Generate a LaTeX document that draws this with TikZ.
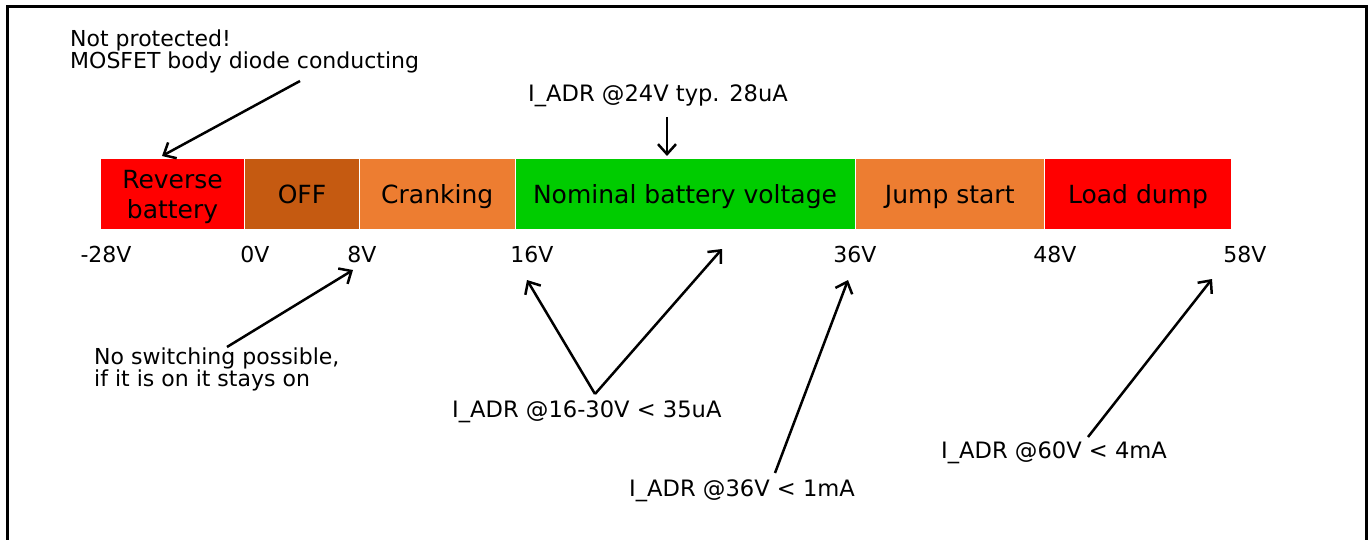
\documentclass[tikz,border=0pt]{standalone}
\usepackage{fontspec}
\setmainfont{DejaVu Sans}
\usetikzlibrary{arrows.meta}
\definecolor{cred}{HTML}{FF0000}
\definecolor{coff}{HTML}{C55A11}
\definecolor{corange}{HTML}{ED7D31}
\definecolor{cgreen}{HTML}{00CC00}
\begin{document}
\begin{tikzpicture}[x=1pt,y=-1pt,
  seg/.style={draw=white, line width=1pt, minimum height=71pt, inner sep=0pt,
    font=\fontsize{25}{30}\selectfont, align=center, anchor=north west, text depth=0pt},
  seg1/.style={seg, text height=19pt},
  lbl/.style={font=\fontsize{22}{21}\selectfont, inner sep=0pt, align=left},
  ilbl/.style={font=\fontsize{22.6}{21}\selectfont, inner sep=0pt, anchor=base west},
  tick/.style={font=\fontsize{22}{21}\selectfont, inner sep=0pt, anchor=base},
  arr/.style={-{Straight Barb[length=10pt,width=18pt]}, line width=2.5pt}]
\useasboundingbox (0,0) rectangle (1370,540);
\draw[line width=3pt] (7,560) -- (7,7) -- (1366,7) -- (1366,560);

% segments
\node[seg, fill=cred, minimum width=144pt] (rev) at (100,158) {Reverse\\battery};
\node[seg1, fill=coff, minimum width=115pt] (off) at (244,158) {OFF};
\node[seg1, fill=corange, minimum width=155.5pt] (crank) at (359,158) {Cranking};
\node[seg1, fill=cgreen, minimum width=340pt] (nom) at (514.5,158) {Nominal battery voltage};
\node[seg1, fill=corange, minimum width=189.5pt] (jump) at (854.5,158) {Jump start};
\node[seg1, fill=cred, minimum width=187pt] (load) at (1044,158) {Load dump};

% tick labels
\node[tick] (t1) at (106,262) {-28V};
\node[tick] (t2) at (255,262) {0V};
\node[tick] (t3) at (362,262) {8V};
\node[tick] (t4) at (532,262) {16V};
\node[tick] (t5) at (855,262) {36V};
\node[tick] (t6) at (1055,262) {48V};
\node[tick] (t7) at (1245,262) {58V};

% annotations
\node[lbl, anchor=north west] (np) at (70,29.3) {Not protected!\\MOSFET body diode conducting};
\node[ilbl] (typ) at (528,102) {I\_ADR @24V typ. 28uA};
\node[lbl, anchor=north west] (nosw) at (94,347.3) {No switching possible,\\if it is on it stays on};
\node[ilbl] (i16) at (452,417) {I\_ADR @16-30V < 35uA};
\node[ilbl] (i36) at (629,496) {I\_ADR @36V < 1mA};
\node[ilbl] (i60) at (941,458) {I\_ADR @60V < 4mA};

% arrow end points
\coordinate (a1s) at (300,81);   \coordinate (a1e) at (162,156);
\coordinate (a2s) at (667,117);  \coordinate (a2e) at (667,156);
\coordinate (a3s) at (227,347);  \coordinate (a3e) at (353,270);
\coordinate (a4v) at (595,394);  \coordinate (a4l) at (527,280); \coordinate (a4r) at (722,249);
\coordinate (a5s) at (775,473);  \coordinate (a5e) at (848,280);
\coordinate (a6s) at (1088,437); \coordinate (a6e) at (1212,279);

\draw[arr] (a1s) -- (a1e);
\draw[arr] (a2s) -- (a2e);
\draw[arr] (a3s) -- (a3e);
\draw[arr] (a4v) -- (a4l);
\draw[arr] (a4v) -- (a4r);
\draw[arr] (a5s) -- (a5e);
\draw[arr] (a6s) -- (a6e);
\end{tikzpicture}
\end{document}
